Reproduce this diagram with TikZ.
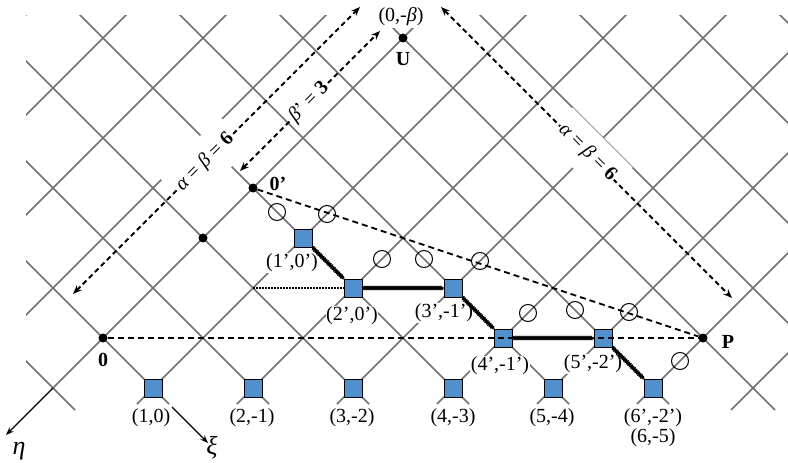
\documentclass[tikz,border=0pt]{standalone}
\usepackage{fontspec}
\setmainfont{Liberation Serif}
\usetikzlibrary{arrows.meta,decorations.pathmorphing}
\definecolor{gridgray}{RGB}{112,112,112}
\definecolor{sqblue}{RGB}{80,145,205}
\begin{document}
\begin{tikzpicture}[x=1pt,y=-1pt,
  gridline/.style={draw=gridgray,line width=1.5pt},
  sq/.style={rectangle,draw=black,fill=sqblue,line width=0.8pt,minimum size=18pt,inner sep=0pt},
  dotnode/.style={circle,fill=black,minimum size=9pt,inner sep=0pt},
  ring/.style={circle,draw=black,line width=1pt,minimum size=17pt,inner sep=0pt},
  lab/.style={font=\fontsize{20}{21}\selectfont,inner sep=0.5pt},
  wlab/.style={lab,fill=white},
  blab/.style={font=\fontsize{20}{21}\selectfont\bfseries,inner sep=0pt},
  greek/.style={font=\fontsize{26}{28}\selectfont\itshape,inner sep=0pt,anchor=base},
  dasharrow/.style={line width=2pt,dash pattern=on 5pt off 3.5pt,{Stealth[length=9pt,width=7pt]}-{Stealth[length=9pt,width=7pt]}},
  dline/.style={line width=1.8pt,dash pattern=on 6pt off 4pt},
  dotline/.style={line width=1.5pt,dash pattern=on 1.5pt off 1.5pt},
  thickpath/.style={line width=2.2pt,decorate,decoration={snake,amplitude=0.7pt,segment length=2pt}},
  axisarrow/.style={line width=1.3pt,-{Stealth[length=8pt,width=6pt]}},
]
\useasboundingbox (0,0) rectangle (788,463);

% ---------- lattice ----------
\begin{scope}
  \clip (26,15) rectangle (788,388);
  \foreach \c in {41,141,...,1141} \draw[gridline] (\c-420,420) -- (\c+20,-20);
  \foreach \d in {-335,-235,...,765} \draw[gridline] (\d-20,-20) -- (\d+420,420);
\end{scope}
\draw[gridline] (53,388) -- (75,410);
\draw[gridline] (753,388) -- (775,410) (753,388) -- (731,410);
\foreach \x in {153,253,...,653} \draw[gridline] (\x-16,404) -- (\x,388) -- (\x+16,404);

% ---------- white label backgrounds ----------
\fill[white] (159,177) -- (219.5,116.5) -- (250.5,147.5) -- (190,208) -- cycle;
\fill[white] (542.5,137.5) -- (602.5,197.5) -- (632.5,167.5) -- (572.5,107.5) -- cycle;
\fill[white] (372,0) rectangle (432,28);

% ---------- dimension arrows ----------
\coordinate (la1) at (73,294);  \coordinate (la2) at (360,7);
\coordinate (lb1) at (240,171); \coordinate (lb2) at (380,31);
\coordinate (ra1) at (441,7);   \coordinate (ra2) at (732,298);
\draw[dasharrow] (la1) -- (la2);
\draw[dasharrow] (lb1) -- (lb2);
\draw[dasharrow] (ra1) -- (ra2);
\node[wlab,rotate=45,inner sep=1pt] (labA) at (205,162) {\textit{α} = \textit{β} = \textbf{6}};
\node[wlab,rotate=45,inner sep=1pt] (labB) at (309,102) {\textit{β}’ = \textbf{3}};
\node[wlab,rotate=-45,inner sep=1pt] (labC) at (587.5,152.5) {\textit{α} = \textit{β} = \textbf{6}};
\node[lab] (labT) at (401,17) {(0,-\textit{β})};

% ---------- squares ----------
\node[sq] (b1) at (153,388) {};
\node[sq] (b2) at (253,388) {};
\node[sq] (b3) at (353,388) {};
\node[sq] (b4) at (453,388) {};
\node[sq] (b5) at (553,388) {};
\node[sq] (b6) at (653,388) {};
\node[sq] (q1) at (303,238) {};
\node[sq] (q2) at (353,288) {};
\node[sq] (q3) at (453,288) {};
\node[sq] (q4) at (503,338) {};
\node[sq] (q5) at (603,338) {};

% ---------- square labels ----------
\node[wlab] (lq1) at (292,263) {(1’,0’)};
\node[wlab] (lq2) at (352,316) {(2’,0’)};
\node[wlab] (lq3) at (444,313) {(3’,-1’)};
\node[wlab] (lq4) at (500,366) {(4’,-1’)};
\node[wlab] (lq5) at (593,364) {(5’,-2’)};
\node[wlab] (lq6) at (653,418) {(6’,-2’)};
\node[lab] (lb6) at (653,438) {(6,-5)};
\node[lab] (lb1) at (151,418) {(1,0)};
\node[lab] (lb2) at (252,418) {(2,-1)};
\node[lab] (lb3) at (352,418) {(3,-2)};
\node[lab] (lb4) at (453,418) {(4,-3)};
\node[lab] (lb5) at (552,418) {(5,-4)};

% ---------- path ----------
\draw[thickpath] (q1.south east) -- (q2.north west);
\draw[thickpath] (q2.east) -- (q3.west);
\draw[thickpath] (q3.south east) -- (q4.north west);
\draw[thickpath] (q4.east) -- (q5.west);
\draw[thickpath] (q5.south east) -- (b6.north west);

% ---------- points ----------
\node[dotnode] (o) at (103,338) {};
\node[dotnode] (m) at (203,238) {};
\node[dotnode] (op) at (253,188) {};
\node[dotnode] (u) at (403,38) {};
\node[dotnode] (p) at (703,338) {};

\coordinate (c31) at (253,288);
\draw[dotline] (c31) -- (q2.west);
\draw[dline] (o) -- (p);
\draw[dline] (op) -- (p);

% ---------- open circles ----------
\node[ring] (r1) at (277,212) {};
\node[ring] (r2) at (327,214) {};
\node[ring] (r3) at (382,259) {};
\node[ring] (r4) at (424,259) {};
\node[ring] (r5) at (480,261) {};
\node[ring] (r6) at (528,313) {};
\node[ring] (r7) at (575,310) {};
\node[ring] (r8) at (629,312) {};
\node[ring] (r9) at (680,361) {};

% ---------- point labels ----------
\node[blab] (l0) at (103,360) {0};
\node[blab] (l0p) at (278,184) {0’};
\node[blab] (lU) at (403,59) {U};
\node[blab] (lP) at (728,342) {P};

% ---------- axes ----------
\coordinate (etaS) at (53,388); \coordinate (etaE) at (6,435);
\coordinate (xiS) at (172,407); \coordinate (xiE) at (208,443);
\draw[axisarrow] (etaS) -- (etaE);
\draw[axisarrow] (xiS) -- (xiE);
\node[greek] (leta) at (19,454) {η};
\node[greek] (lxi) at (212,454) {ξ};
\end{tikzpicture}
\end{document}
